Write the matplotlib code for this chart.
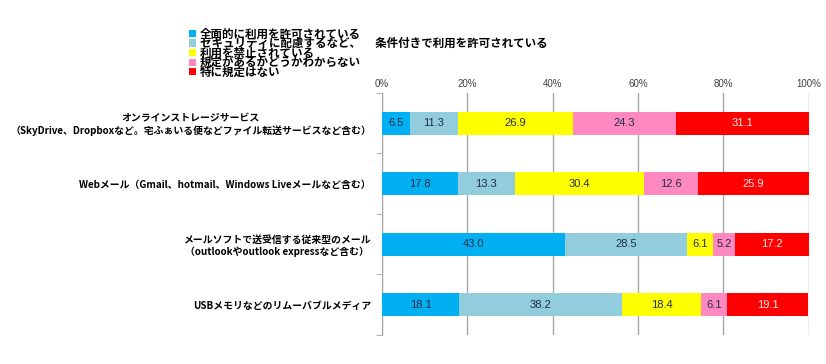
import matplotlib
matplotlib.use('Agg')
import matplotlib.pyplot as plt
import numpy as np

plt.rcParams['font.family'] = ['Noto Sans CJK JP', 'DejaVu Sans']

# data
categories = ['オンラインストレージサービス\n（SkyDrive、Dropboxなど。宅ふぁいる便などファイル転送サービスなど含む）',
              'Webメール（Gmail、hotmail、Windows Liveメールなど含む）',
              'メールソフトで送受信する従来型のメール\n（outlookやoutlook expressなど含む）',
              'USBメモリなどのリムーバブルメディア']
series_names = ['全面的に利用を許可されている',
                'セキュリティに配慮するなど、　 条件付きで利用を許可されている',
                '利用を禁止されている',
                '規定があるかどうかわからない',
                '特に規定はない']
values = [[6.5, 17.8, 43.0, 18.1],
          [11.3, 13.3, 28.5, 38.2],
          [26.9, 30.4, 6.1, 18.4],
          [24.3, 12.6, 5.2, 6.1],
          [31.1, 25.9, 17.2, 19.1]]
xticks = [0, 20, 40, 60, 80, 100]

colors = ['#00B0F0', '#92CDDD', '#FFFF00', '#FF88C0', '#FF0000']
txtcol = ['#1F2D4A', '#1F2D4A', '#1F2D4A', '#1F2D4A', '#FFE8E8']

fig = plt.figure(figsize=(8.26, 3.64), dpi=100)
ax = fig.add_axes([0.4625, 0.0797, 0.5165, 0.6648])

y = np.arange(len(categories))
left = np.zeros(len(categories))
handles = []
for i in range(len(series_names)):
    v = np.array(values[i])
    b = ax.barh(y, v, left=left, height=0.38, color=colors[i], label=series_names[i], zorder=3)
    handles.append(b)
    for j in range(len(v)):
        ax.text(left[j] + v[j] / 2, y[j], '%.1f' % v[j], ha='center', va='center',
                fontsize=8, color=txtcol[i], family='Liberation Sans', zorder=4)
    left += v

ax.set_xlim(0, 100)
ax.set_ylim(3.5, -0.5)
ax.xaxis.tick_top()
ax.set_xticks(xticks)
ax.set_xticklabels(['%d%%' % t for t in xticks], family='Liberation Sans', fontsize=7, color='#404040')
ax.tick_params(axis='x', length=0, pad=3)
ax.grid(axis='x', color='#A6A6A6', linewidth=1, zorder=0)

ax.set_yticks(y)
ax.set_yticklabels(categories, fontsize=7.1, fontweight='bold', multialignment='center')
ax.set_yticks(np.arange(-0.5, 4, 1), minor=True)
ax.tick_params(axis='y', which='major', length=0, pad=8)
ax.tick_params(axis='y', which='minor', length=4, color='#A6A6A6')

for s in ['top', 'right', 'bottom']:
    ax.spines[s].set_visible(False)
ax.spines['left'].set_color('#A6A6A6')

fig.legend(handles=handles, loc='upper left', bbox_to_anchor=(0.222, 0.94),
           frameon=False, prop={'weight': 'bold', 'size': 8.3},
           handlelength=0.6, handleheight=0.6, handletextpad=0.3,
           labelspacing=-0.3, borderpad=0)

fig.savefig('out.png', dpi=100)
